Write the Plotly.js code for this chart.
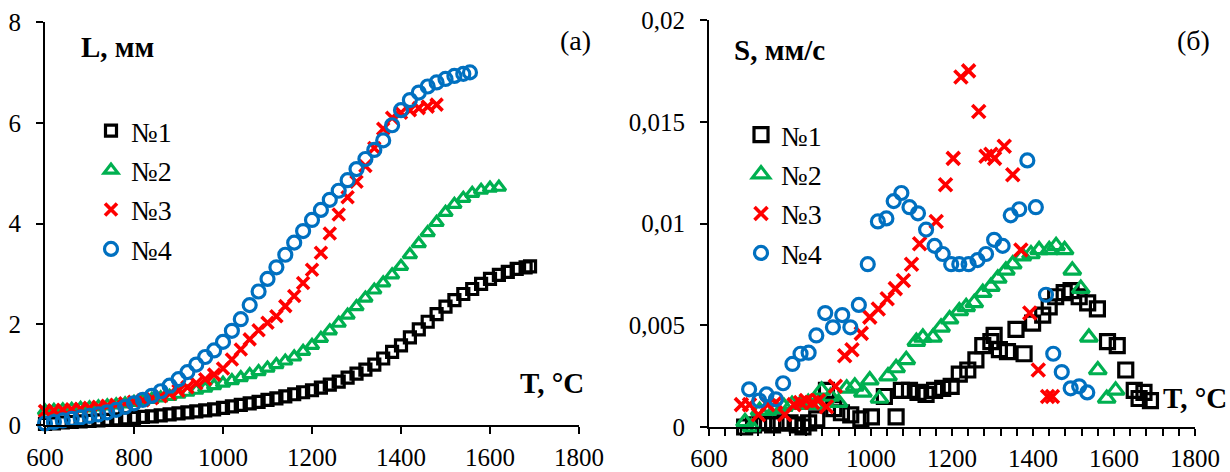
<!DOCTYPE html>
<html>
<head>
<meta charset="utf-8">
<script src="https://cdn.plot.ly/plotly-3.0.1.min.js"></script>
<style>
  html, body { margin: 0; padding: 0; background: #fff; }
  #chart { width: 1230px; height: 472px; }
</style>
</head>
<body>
<div id="chart"></div>
<script>
// ---- (а) Length L, mm versus temperature T, °C ----
const tempL1 = [600,620,640,660,680,700,720,740,760,780,800,820,840,860,880,900,920,940,960,980,1000,1020,1040,1060,1080,1100,1120,1140,1160,1180,1200,1220,1240,1260,1280,1300,1320,1340,1360,1380,1400,1420,1440,1460,1480,1500,1520,1540,1560,1580,1600,1620,1640,1660,1680,1690];
const lenL1 = [0.02,0.03,0.05,0.06,0.07,0.08,0.09,0.10,0.11,0.13,0.14,0.16,0.17,0.19,0.21,0.23,0.25,0.27,0.29,0.31,0.34,0.37,0.40,0.43,0.46,0.50,0.53,0.57,0.61,0.65,0.69,0.74,0.80,0.86,0.94,1.02,1.10,1.20,1.32,1.45,1.58,1.74,1.90,2.05,2.20,2.35,2.48,2.60,2.70,2.80,2.90,2.98,3.04,3.10,3.13,3.15];

const tempL2 = [600,620,640,660,680,700,720,740,760,780,800,820,840,860,880,900,920,940,960,980,1000,1020,1040,1060,1080,1100,1120,1140,1160,1180,1200,1220,1240,1260,1280,1300,1320,1340,1360,1380,1400,1420,1440,1460,1480,1500,1520,1540,1560,1580,1600,1620];
const lenL2 = [0.28,0.29,0.30,0.31,0.33,0.34,0.36,0.38,0.40,0.42,0.45,0.48,0.51,0.54,0.57,0.61,0.65,0.69,0.73,0.78,0.83,0.88,0.94,1.00,1.06,1.13,1.20,1.27,1.35,1.46,1.58,1.72,1.87,2.02,2.18,2.35,2.52,2.68,2.82,2.98,3.15,3.38,3.60,3.82,4.02,4.22,4.38,4.50,4.60,4.66,4.70,4.72];

const tempL3 = [600,620,640,660,680,700,720,740,760,780,800,820,840,860,880,900,920,940,960,980,1000,1020,1040,1060,1080,1100,1120,1140,1160,1180,1200,1220,1240,1260,1280,1300,1320,1340,1360,1380,1400,1420,1440,1460,1480];
const lenL3 = [0.28,0.29,0.30,0.31,0.32,0.34,0.36,0.38,0.40,0.43,0.46,0.49,0.53,0.57,0.62,0.68,0.75,0.83,0.91,1.00,1.12,1.30,1.50,1.70,1.88,2.03,2.16,2.36,2.56,2.82,3.08,3.42,3.80,4.18,4.52,4.83,5.14,5.50,5.88,6.10,6.20,6.25,6.29,6.32,6.36];

const tempL4 = [600,620,640,660,680,700,720,740,760,780,800,820,840,860,880,900,920,940,960,980,1000,1020,1040,1060,1080,1100,1120,1140,1160,1180,1200,1220,1240,1260,1280,1300,1320,1340,1360,1380,1400,1420,1440,1460,1480,1500,1520,1540,1555];
const lenL4 = [0.03,0.06,0.09,0.12,0.15,0.18,0.21,0.25,0.30,0.36,0.43,0.50,0.58,0.67,0.78,0.91,1.05,1.20,1.35,1.48,1.65,1.87,2.10,2.38,2.65,2.90,3.13,3.38,3.62,3.85,4.07,4.27,4.47,4.65,4.86,5.08,5.28,5.46,5.65,5.95,6.25,6.45,6.60,6.72,6.80,6.87,6.93,6.97,7.00];

// ---- (б) Rate S, mm/s versus temperature T, °C ----
const tempS1 = [688,710,735,757,778,800,818,832,846,866,890,908,927,950,975,1001,1033,1062,1075,1095,1116,1136,1157,1177,1198,1218,1239,1259,1276,1296,1304,1317,1337,1358,1378,1399,1424,1440,1456,1477,1494,1514,1535,1559,1584,1608,1629,1650,1662,1674,1690];
const rateS1 = [0.0000,0.0001,0.0002,0.0001,0.0002,0.0002,0.0001,0.0000,0.0002,0.0004,0.0018,0.0009,0.0007,0.0006,0.0004,0.0005,0.0015,0.0005,0.0018,0.0018,0.0017,0.0016,0.0018,0.0019,0.0020,0.0026,0.0028,0.0033,0.0040,0.0042,0.0045,0.0038,0.0037,0.0048,0.0036,0.0051,0.0055,0.0059,0.0064,0.0066,0.0067,0.0064,0.0061,0.0058,0.0042,0.0040,0.0028,0.0018,0.0014,0.0017,0.0013];

const tempS2 = [689,705,725,745,765,785,805,825,845,862,878,900,920,940,960,980,997,1021,1042,1062,1087,1112,1128,1153,1173,1194,1218,1235,1255,1276,1296,1313,1333,1350,1374,1395,1415,1440,1457,1478,1497,1518,1538,1560,1582,1604];
const rateS2 = [0.00025,0.0000,0.0008,0.0008,0.0009,0.0010,0.0011,0.0011,0.0012,0.0011,0.0018,0.0015,0.0012,0.0019,0.0020,0.0017,0.0023,0.0014,0.0025,0.0029,0.0033,0.0042,0.0044,0.0044,0.0049,0.0053,0.0057,0.0059,0.0061,0.0066,0.0069,0.0073,0.0077,0.0080,0.0084,0.0085,0.0087,0.0087,0.0089,0.0087,0.0077,0.0068,0.0044,0.0028,0.0014,0.0018];

const tempS3 = [680,700,722,745,765,787,810,826,840,856,870,890,912,935,953,976,997,1018,1040,1060,1080,1100,1120,1161,1184,1203,1222,1241,1266,1284,1296,1305,1329,1350,1370,1392,1413,1436,1448];
const rateS3 = [0.0011,0.0011,0.0006,0.0011,0.0012,0.0006,0.0011,0.0012,0.0013,0.0012,0.0013,0.0010,0.0020,0.0035,0.0038,0.0046,0.0054,0.0058,0.0063,0.0068,0.0072,0.0080,0.0090,0.0101,0.0119,0.0132,0.0172,0.0175,0.0155,0.0133,0.0134,0.0132,0.0138,0.0124,0.0087,0.0056,0.0028,0.0015,0.0015];

const tempS4 = [699,724,742,765,783,806,826,846,865,887,906,929,949,970,992,1017,1038,1056,1075,1095,1116,1136,1157,1177,1198,1218,1241,1263,1284,1304,1325,1345,1366,1386,1407,1432,1450,1471,1493,1514,1534];
const rateS4 = [0.00185,0.0013,0.0016,0.00136,0.00215,0.0031,0.0036,0.00365,0.0045,0.0056,0.0049,0.0055,0.0049,0.0060,0.0080,0.0101,0.01025,0.0111,0.0115,0.0108,0.0105,0.0097,0.0089,0.0085,0.0080,0.0080,0.0080,0.0082,0.0085,0.0092,0.0089,0.0104,0.0107,0.0131,0.0108,0.0065,0.0036,0.0027,0.0019,0.0020,0.0017];

const seriesNames = ['№1', '№2', '№3', '№4'];
const seriesColors = ['#000000', '#00B050', '#FF0000', '#0070C0'];
const seriesSymbols = ['square-open', 'triangle-up-open', 'x-thin-open', 'circle-open'];

const rateTickVals = [0, 0.005, 0.01, 0.015, 0.02];
const rateTickText = ['0', '0,005', '0,01', '0,015', '0,02'];

const W = 1230, H = 472;
const px = x => x / W;
const py = y => 1 - y / H;

const leftSets = [[tempL1, lenL1], [tempL2, lenL2], [tempL3, lenL3], [tempL4, lenL4]];
const rightSets = [[tempS1, rateS1], [tempS2, rateS2], [tempS3, rateS3], [tempS4, rateS4]];
const leftSizes = [11, 12, 12, 13];
const rightSizes = [14, 15, 13, 13];
const lineWidths = [3.2, 3.2, 3.6, 3.2];

const traces = [];
leftSets.forEach(([t, v], i) => {
  traces.push({
    type: 'scatter', mode: 'markers', x: t, y: v, name: seriesNames[i],
    xaxis: 'x', yaxis: 'y', legend: 'legend', cliponaxis: false,
    marker: { symbol: seriesSymbols[i], size: leftSizes[i], color: seriesColors[i],
              line: { color: seriesColors[i], width: lineWidths[i] } }
  });
});
rightSets.forEach(([t, v], i) => {
  traces.push({
    type: 'scatter', mode: 'markers', x: t, y: v, name: seriesNames[i],
    xaxis: 'x2', yaxis: 'y2', legend: 'legend2', cliponaxis: false,
    marker: { symbol: seriesSymbols[i], size: rightSizes[i], color: seriesColors[i],
              line: { color: seriesColors[i], width: lineWidths[i] } }
  });
});

const serif = 'Liberation Serif, Times New Roman, serif';
const tickFont = { family: serif, size: 25, color: '#000' };

const baseAxis = {
  showgrid: false, zeroline: false, showline: true, linecolor: '#000', linewidth: 2,
  ticks: 'outside', ticklen: 7, tickwidth: 2, tickcolor: '#000', tickfont: tickFont,
  fixedrange: true
};

const legendBase = {
  font: { family: serif, size: 28, color: '#000' },
  bgcolor: 'rgba(0,0,0,0)', borderwidth: 0, itemwidth: 30,
  xanchor: 'left', yanchor: 'top', tracegroupgap: 0
};

const ann = (text, x, y, size, xanchor) => ({
  text, x: px(x), y: py(y), xref: 'paper', yref: 'paper', showarrow: false,
  xanchor: xanchor || 'center', yanchor: 'middle',
  font: { family: serif, size: size, color: '#000' }
});

const layout = {
  width: W, height: H,
  margin: { l: 0, r: 0, t: 0, b: 0 },
  paper_bgcolor: '#fff', plot_bgcolor: 'rgba(0,0,0,0)',
  showlegend: true,
  xaxis: Object.assign({}, baseAxis, {
    domain: [px(45), px(579)], range: [600, 1800], dtick: 200, tick0: 600,
    anchor: 'y', ticklabelstandoff: 2
  }),
  yaxis: Object.assign({}, baseAxis, {
    domain: [py(425), py(22)], range: [0, 8], dtick: 2, tick0: 0,
    anchor: 'x', ticklabelstandoff: 10
  }),
  xaxis2: Object.assign({}, baseAxis, {
    domain: [px(709), px(1195)], range: [600, 1800], dtick: 200, tick0: 600,
    anchor: 'y2', ticklabelstandoff: 1,
    minor: { dtick: 40, tick0: 600, ticks: 'outside', ticklen: 7, tickwidth: 2, tickcolor: '#000' }
  }),
  yaxis2: Object.assign({}, baseAxis, {
    domain: [py(427), py(20)], range: [0, 0.02],
    tickmode: 'array', tickvals: rateTickVals, ticktext: rateTickText,
    anchor: 'x2', ticklabelstandoff: 10
  }),
  legend: Object.assign({}, legendBase, { x: px(91), y: py(106) }),
  legend2: Object.assign({}, legendBase, { x: px(741), y: py(110) }),
  annotations: [
    ann('<b>L, мм</b>', 79, 47, 29, 'left'),
    ann('(а)', 575, 40, 28),
    ann('<b>T, °C</b>', 518, 383, 29, 'left'),
    ann('<b>S, мм/с</b>', 732, 50, 29, 'left'),
    ann('(б)', 1193, 40, 28),
    ann('<b>T, °C</b>', 1161, 398, 29, 'left')
  ]
};

Plotly.newPlot('chart', traces, layout, { staticPlot: true, displayModeBar: false });
</script>
</body>
</html>
